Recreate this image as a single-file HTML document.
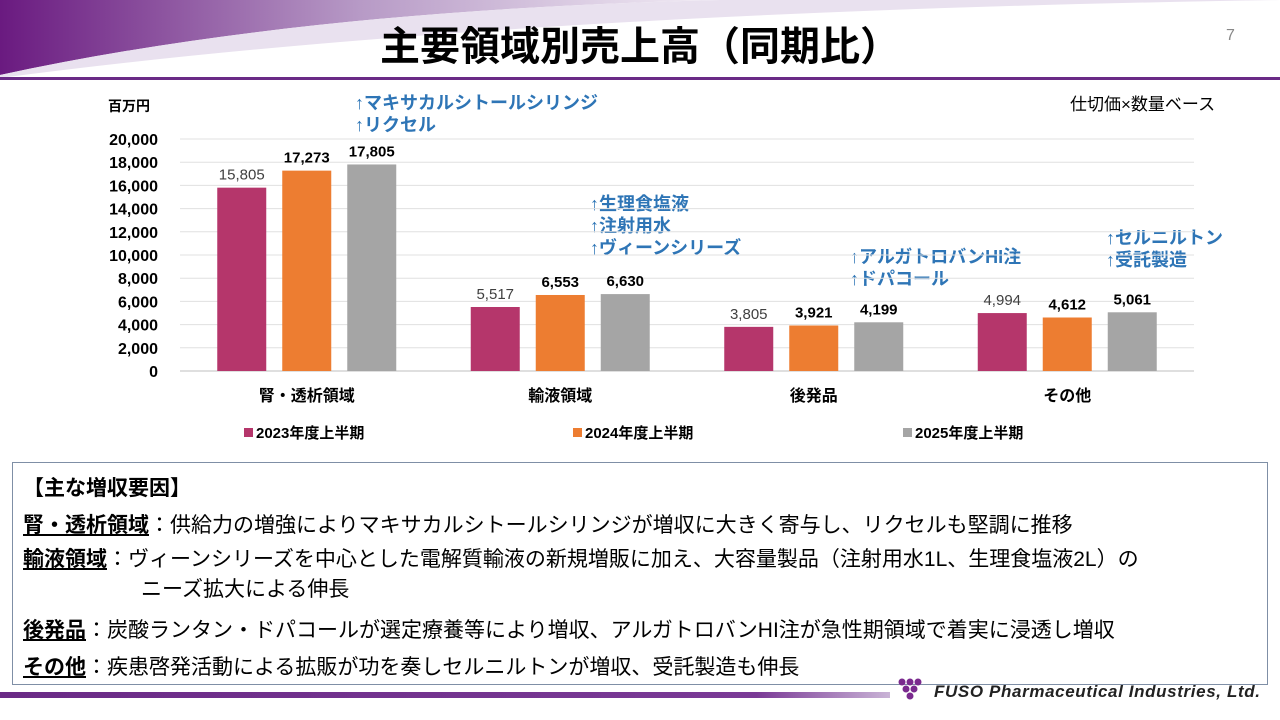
<!DOCTYPE html>
<html lang="ja"><head><meta charset="utf-8">
<style>
*{margin:0;padding:0;box-sizing:border-box}
body{width:1280px;height:720px;overflow:hidden;background:#fff;position:relative;font-family:"Liberation Sans","Noto Sans CJK JP",sans-serif;color:#000}
.abs{position:absolute;white-space:nowrap}
.note{color:#2E75B6;font-size:18px;line-height:22px;font-weight:bold}
#box{position:absolute;left:12px;top:462px;width:1256px;height:223px;border:1.5px solid #7f8fa6}
#box div{position:absolute;left:10px;font-size:21px;white-space:nowrap}
#box u{font-weight:bold}
</style></head><body>
<svg class="abs" style="left:0;top:0" width="1280" height="80">
<defs><linearGradient id="g1" x1="0" x2="1"><stop offset="0" stop-color="#6a1a80"/><stop offset="0.5" stop-color="#b79ac6"/><stop offset="1" stop-color="#f3eef6"/></linearGradient></defs>
<path d="M0 0 H720 Q300 10 0 75 Z" fill="url(#g1)"/>
<path d="M0 75 Q300 10 720 0 H1280 V0 Q500 12 0 78 Z" fill="#e9e1ef"/>
<rect x="0" y="77" width="1280" height="3" fill="#6a2a86"/>
</svg>
<div class="abs" style="left:0;width:1280px;top:22px;text-align:center;font-size:40px;font-weight:bold;line-height:50px">主要領域別売上高（同期比）</div>
<div class="abs" style="left:1226px;top:27px;font-size:16px;color:#888">7</div>
<div class="abs" style="left:108px;top:96px;font-size:14px;font-weight:bold">百万円</div>
<div class="abs" style="left:1070px;top:90px;font-size:17px">仕切価×数量ベース</div>
<div class="abs note" style="left:355px;top:92px">↑マキサカルシトールシリンジ<br>↑リクセル</div>
<div class="abs note" style="left:590px;top:193px">↑生理食塩液<br>↑注射用水<br>↑ヴィーンシリーズ</div>
<div class="abs note" style="left:850px;top:246px">↑アルガトロバンHI注<br>↑ドパコール</div>
<div class="abs note" style="left:1106px;top:227px">↑セルニルトン<br>↑受託製造</div>
<svg id="chart" class="abs" style="left:0;top:0" width="1280" height="460"></svg>
<div id="box">
<div style="top:9px;font-weight:bold">【主な増収要因】</div>
<div style="top:46px"><u>腎・透析領域</u>：供給力の増強によりマキサカルシトールシリンジが増収に大きく寄与し、リクセルも堅調に推移</div>
<div style="top:82px;line-height:30px"><u>輸液領域</u>：ヴィーンシリーズを中心とした電解質輸液の新規増販に加え、大容量製品（注射用水1L、生理食塩液2L）の<br><span style="padding-left:118px">ニーズ拡大による伸長</span></div>
<div style="top:151px"><u>後発品</u>：炭酸ランタン・ドパコールが選定療養等により増収、アルガトロバンHI注が急性期領域で着実に浸透し増収</div>
<div style="top:188px"><u>その他</u>：疾患啓発活動による拡販が功を奏しセルニルトンが増収、受託製造も伸長</div>
</div>
<svg class="abs" style="left:0;top:676px" width="1280" height="44">
<defs><linearGradient id="g2" x1="0" x2="1"><stop offset="0" stop-color="#6a2a86"/><stop offset="0.85" stop-color="#7a3a96"/><stop offset="1" stop-color="#c9b3d6"/></linearGradient></defs>
<rect x="0" y="16" width="890" height="6" fill="url(#g2)"/>
<g fill="#7a2a8e"><circle cx="902" cy="6" r="3.5"/><circle cx="910" cy="6" r="3.5"/><circle cx="918" cy="6" r="3.5"/><circle cx="906" cy="13" r="3.5"/><circle cx="914" cy="13" r="3.5"/><circle cx="910" cy="20" r="3.5"/></g>
<text x="934" y="21" font-family="Liberation Sans,sans-serif" font-size="17" font-weight="bold" font-style="italic" fill="#222" textLength="326">FUSO Pharmaceutical Industries, Ltd.</text>
</svg>
<script>
const categories=["腎・透析領域","輸液領域","後発品","その他"];
const s2023=[15805,5517,3805,4994];
const s2024=[17273,6553,3921,4612];
const s2025=[17805,6630,4199,5061];
const yTicks=[0,2000,4000,6000,8000,10000,12000,14000,16000,18000,20000];
const seriesNames=["2023年度上半期","2024年度上半期","2025年度上半期"];
const colors=["#B5366B","#ED7D31","#A5A5A5"];
const svg=document.getElementById('chart');
const NS="http://www.w3.org/2000/svg";
const x0=180,x1=1194,y0=371,yTop=139,yMax=20000;
function yScale(v){return y0-(v/yMax)*(y0-yTop);}
function xBand(i){const w=(x1-x0)/categories.length;return x0+w*i;}
function el(t,a){const e=document.createElementNS(NS,t);for(const k in a)e.setAttribute(k,a[k]);svg.appendChild(e);return e;}
yTicks.forEach(t=>{
 const l=el('line',{x1:x0,x2:x1,y1:yScale(t),y2:yScale(t),stroke:t===0?'#bfbfbf':'#e0e0e0','stroke-width':1});
 
 
 const tx=el('text',{x:158,y:yScale(t)+6,'text-anchor':'end','font-size':16,'font-weight':'bold','font-family':'Liberation Sans,sans-serif'});
 tx.textContent=t.toLocaleString('en-US');
 
 
});
const series=[s2023,s2024,s2025];
const bw=(x1-x0)/categories.length;
categories.forEach((c,i)=>{
 const cx=xBand(i)+bw/2;
 series.forEach((s,j)=>{
  const bx=cx-0.5*49+(j-1)*65;
  const r=el('rect',{x:bx,y:yScale(s[i]),width:49,height:y0-yScale(s[i]),fill:colors[j]});
  
  
  const t=el('text',{x:bx+24.5,y:yScale(s[i])-8,'text-anchor':'middle','font-size':15,'font-family':'Liberation Sans,sans-serif','fill':j===0?'#404040':'#000','font-weight':j===0?'normal':'bold'});
  t.textContent=s[i].toLocaleString('en-US');
  
  
 });
 const ct=el('text',{x:cx,y:401,'text-anchor':'middle','font-size':16,'font-weight':'bold','font-family':'Liberation Sans,Noto Sans CJK JP,sans-serif'});
 ct.textContent=c;
 
 
});
const legX=[244,573,903];
seriesNames.forEach((n,j)=>{
 const r=el('rect',{x:legX[j],y:428,width:9,height:9,fill:colors[j]});
 
 
 const t=el('text',{x:legX[j]+12,y:438,'font-size':15,'font-weight':'bold','font-family':'Liberation Sans,Noto Sans CJK JP,sans-serif'});
 t.textContent=n;
 
 
});
</script>
</body></html>
